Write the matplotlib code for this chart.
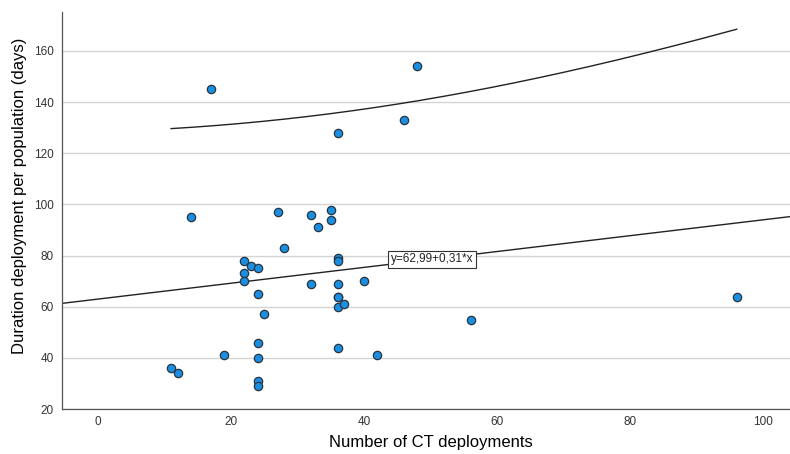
import numpy as np
import matplotlib
matplotlib.use("Agg")
import matplotlib.pyplot as plt

plt.rcParams['font.family'] = ['Liberation Sans', 'DejaVu Sans']

ct_deployments = [11, 12, 17, 14, 19, 22, 22, 22, 23, 24, 24, 24, 24, 24, 24, 25,
                  27, 28, 32, 32, 33, 35, 35, 36, 36, 36, 36, 36, 36, 36, 36,
                  37, 40, 42, 46, 48, 56, 96]
duration_days = [36, 34, 145, 95, 41, 78, 73, 70, 76, 75, 65, 46, 40, 31, 29, 57,
                 97, 83, 96, 69, 91, 98, 94, 128, 79, 78, 69, 64, 64, 60, 44,
                 61, 70, 41, 133, 154, 55, 64]
intercept = 62.99
slope = 0.31
fit_label = "y=62,99+0,31*x"
x_ticks = [0, 20, 40, 60, 80, 100]
y_ticks = [20, 40, 60, 80, 100, 120, 140, 160]

x = np.array(ct_deployments, dtype=float)
y = np.array(duration_days, dtype=float)
n = len(x)

fig = plt.figure(figsize=(7.9, 4.54), dpi=100)
ax = fig.add_axes([0.0785, 0.099, 0.9215, 0.875])
ax.set_xlim(-5.4, 104)
ax.set_ylim(20, 175.3)

ax.set_yticks(y_ticks)
ax.set_xticks(x_ticks)
ax.yaxis.grid(True, color='#d4d4d4', linewidth=1.0)
ax.set_axisbelow(True)
for s in ['top', 'right']:
    ax.spines[s].set_visible(False)
for s in ['left', 'bottom']:
    ax.spines[s].set_color('#555555')
    ax.spines[s].set_linewidth(0.9)
ax.tick_params(axis='both', length=0, labelsize=8.5, colors='#333333', pad=6)
ax.tick_params(axis='x', pad=5)

# regression line across full x range
xl = np.linspace(-5.4, 104, 200)
ax.plot(xl, intercept + slope * xl, color='#222222', linewidth=1.0, zorder=2)

# 95% prediction interval (individual)
coef = np.polyfit(x, y, 1)
resid = y - np.polyval(coef, x)
s_err = np.sqrt(np.sum(resid ** 2) / (n - 2))
sxx = np.sum((x - x.mean()) ** 2)
t = 2.0
xp = np.linspace(x.min(), x.max(), 200)
yp = intercept + slope * xp
half = t * s_err * np.sqrt(1 + 1 / n + (xp - x.mean()) ** 2 / sxx)
ax.plot(xp, yp + half, color='#222222', linewidth=1.0, zorder=2)
ax.plot(xp, yp - half, color='#222222', linewidth=1.0, zorder=2)

ax.scatter(x, y, s=36, color='#1a8ee0', edgecolors='#2a3440', linewidths=0.9, zorder=3)

lx = 50.2
ax.text(lx, intercept + slope * lx, fit_label, fontsize=8.5, ha='center', va='center',
        color='#222222', zorder=4,
        bbox=dict(boxstyle='square,pad=0.2', facecolor='white', edgecolor='#333333', linewidth=0.8))

ax.set_xlabel("Number of CT deployments", fontsize=12)
ax.set_ylabel("Duration deployment per population (days)", fontsize=12)
ax.xaxis.set_label_coords(0.507, -0.066)
ax.yaxis.set_label_coords(-0.048, 0.536)

fig.savefig("out.png", dpi=100)
